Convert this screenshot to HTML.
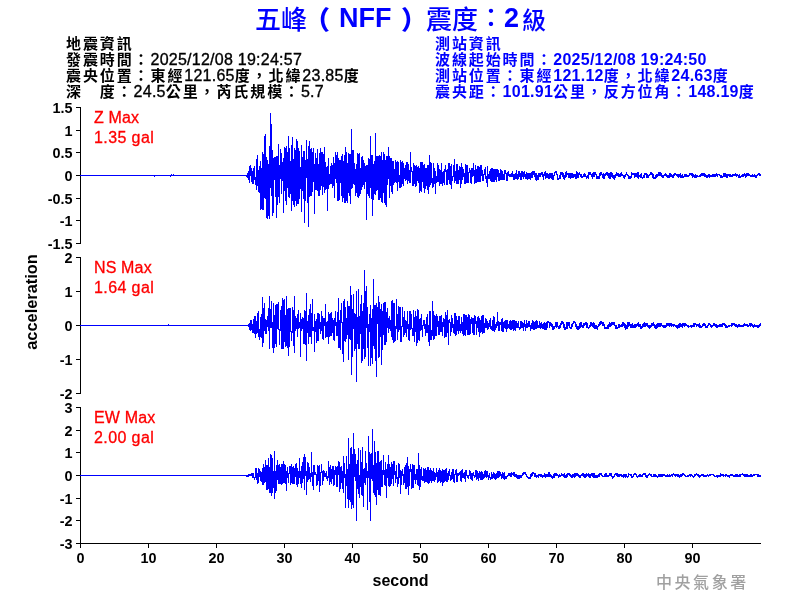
<!DOCTYPE html>
<html><head><meta charset="utf-8">
<style>
html,body{margin:0;padding:0;background:#fff;}
#c{position:relative;width:800px;height:600px;overflow:hidden;background:#fff;font-family:"Liberation Sans","Noto Sans CJK TC",sans-serif;}
.t{position:absolute;white-space:nowrap;line-height:1;}
.ti{top:7px;color:#0000ff;font-weight:bold;font-size:26px;}
.info{font-size:15px;line-height:16px;letter-spacing:1.9px;}
.l{letter-spacing:0.25px;font-size:16px;line-height:16px;}
#left{left:66px;top:36px;color:#000;font-weight:700;}
#left .l{-webkit-text-stroke:0.35px #000;font-weight:400;}
#right{left:435px;top:36px;color:#0000ff;font-weight:bold;}
.red{color:#ff0000;font-size:16px;line-height:20px;-webkit-text-stroke:0.3px #ff0000;}
.red span{letter-spacing:0.4px;}
.red{letter-spacing:0.15px;}
svg{position:absolute;left:0;top:0;}
svg text{font-family:"Liberation Sans",sans-serif;font-weight:bold;font-size:14.4px;}
#cwb{left:656px;top:574.5px;color:#a0a0a0;font-size:16px;letter-spacing:2.55px;font-weight:500;}
</style></head><body><div id="c">
<div class="t ti" style="left:255px;font-weight:500">五峰</div><div class="t ti" style="left:304px;font-weight:900">（</div><div class="t ti" style="left:339px;font-size:27px;top:5px">NFF</div><div class="t ti" style="left:401px;font-weight:900">）</div><div class="t ti" style="left:426px;font-weight:500">震度</div><div class="t ti" style="left:478px;top:5px;font-weight:500">：</div><div class="t ti" style="left:504px;font-size:27px;top:5px">2</div><div class="t ti" style="left:522px;top:9px;font-size:24px;font-weight:500">級</div>
<div class="t info" id="left">地震資訊<br>發震時間：<span class="l">2025/12/08 19:24:57</span><br>震央位置：東經<span class="l">121.65</span>度，北緯<span class="l">23.85</span>度<br>深　度：<span class="l">24.5</span>公里，芮氏規模：<span class="l">5.7</span></div>
<div class="t info" id="right">測站資訊<br>波線起始時間：<span class="l">2025/12/08 19:24:50</span><br>測站位置：東經<span class="l">121.12</span>度，北緯<span class="l">24.63</span>度<br>震央距：<span class="l">101.91</span>公里，反方位角：<span class="l">148.19</span>度</div>
<div class="t red" style="left:94px;top:108px">Z Max<br><span>1.35 gal</span></div>
<div class="t red" style="left:94px;top:258px">NS Max<br><span>1.64 gal</span></div>
<div class="t red" style="left:94px;top:408px">EW Max<br><span>2.00 gal</span></div>
<svg width="800" height="600" viewBox="0 0 800 600">
<g stroke="#000" stroke-width="1" fill="none" shape-rendering="crispEdges">
<path d="M80.5 107V243.5M76 107.5H80.5M76 130.5H80M76 152.5H80M76 175.5H80M76 198.5H80M76 220.5H80M76 243.5H80"/>
<path d="M80.5 257V393.5M76 257.5H80.5M76 291.5H80M76 325.5H80M76 359.5H80M76 393.5H80"/>
<path d="M80.5 407V543.5M76 407.5H80.5M76 430.5H80M76 452.5H80M76 475.5H80M76 498.5H80M76 520.5H80M76 543.5H761"/>
<path d="M80.5 543V548M148.5 543V548M216.5 543V548M284.5 543V548M352.5 543V548M420.5 543V548M488.5 543V548M556.5 543V548M624.5 543V548M692.5 543V548"/>
</g>
<g fill="#000" text-anchor="end">
<text x="72.6" y="113">1.5</text><text x="72.6" y="136">1</text><text x="72.6" y="158">0.5</text><text x="72.6" y="181">0</text><text x="72.6" y="204">-0.5</text><text x="72.6" y="226">-1</text><text x="72.6" y="249">-1.5</text>
<text x="72.6" y="263">2</text><text x="72.6" y="297">1</text><text x="72.6" y="331">0</text><text x="72.6" y="365">-1</text><text x="72.6" y="399">-2</text>
<text x="72.6" y="413">3</text><text x="72.6" y="436">2</text><text x="72.6" y="458">1</text><text x="72.6" y="481">0</text><text x="72.6" y="504">-1</text><text x="72.6" y="526">-2</text><text x="72.6" y="549">-3</text>
</g>
<g fill="#000" text-anchor="middle">
<text x="80.5" y="563">0</text><text x="148.5" y="563">10</text><text x="216.5" y="563">20</text><text x="284.5" y="563">30</text><text x="352.5" y="563">40</text><text x="420.5" y="563">50</text><text x="488.5" y="563">60</text><text x="556.5" y="563">70</text><text x="624.5" y="563">80</text><text x="692.5" y="563">90</text>
<text x="400.5" y="586" style="font-size:16px">second</text>
<text transform="translate(36.5,302) rotate(-90)" style="font-size:16.4px">acceleration</text>
</g>
<g id="wave" stroke="#0000ff" stroke-width="1" fill="none" shape-rendering="crispEdges">
<path d="M80 175.5h74M154.5 175V177M155 175.5h15M170.5 175V177M171.5 174V176M172 175.5h1M173.5 174V176M174 175.5h72M246.5 175V177M247.5 173V178M248.5 171V180M249.5 166V183M250.5 165V176M251.5 168V182M252.5 171V184M253.5 168V184M254.5 166V180M255.5 177V185M256.5 159V190M257.5 155V186M258.5 170V192M259.5 166V193M260.5 161V210M261.5 168V209M262.5 152V210M263.5 154V210M264.5 136V198M265.5 134V199M266.5 157V218M267.5 160V219M268.5 164V216M269.5 146V219M270.5 113V188M271.5 124V196M272.5 150V216M273.5 158V213M274.5 157V180M275.5 157V197M276.5 156V218M277.5 156V205M278.5 144V197M279.5 165V203M280.5 149V179M281.5 153V194M282.5 162V181M283.5 158V213M284.5 147V191M285.5 148V201M286.5 146V205M287.5 152V188M288.5 136V197M289.5 148V198M290.5 161V194M291.5 145V211M292.5 137V201M293.5 159V205M294.5 148V207M295.5 150V201M296.5 139V206M297.5 141V204M298.5 148V204M299.5 151V199M300.5 167V189M301.5 145V212M302.5 157V191M303.5 151V199M304.5 151V223M305.5 160V201M306.5 140V178M307.5 159V203M308.5 146V227M309.5 141V197M310.5 149V196M311.5 148V196M312.5 152V192M313.5 148V182M314.5 164V214M315.5 153V190M316.5 158V190M317.5 149V191M318.5 164V196M319.5 153V196M320.5 148V190M321.5 152V186M322.5 152V195M323.5 154V187M324.5 147V193M325.5 162V190M326.5 167V189M327.5 166V211M328.5 158V189M329.5 174V185M330.5 166V184M331.5 163V184M332.5 165V188M333.5 157V186M334.5 163V198M335.5 152V179M336.5 155V183M337.5 152V201M338.5 158V201M339.5 160V200M340.5 160V183M341.5 156V196M342.5 154V202M343.5 161V198M344.5 155V203M345.5 147V203M346.5 152V201M347.5 163V203M348.5 153V193M349.5 154V196M350.5 154V204M351.5 129V189M352.5 150V188M353.5 150V184M354.5 163V185M355.5 169V196M356.5 164V193M357.5 153V197M358.5 154V198M359.5 153V196M360.5 168V194M361.5 157V190M362.5 156V187M363.5 160V185M364.5 163V189M365.5 166V182M366.5 165V220M367.5 165V194M368.5 158V196M369.5 159V198M370.5 136V188M371.5 155V199M372.5 155V216M373.5 164V200M374.5 161V194M375.5 133V195M376.5 156V191M377.5 156V190M378.5 156V200M379.5 155V200M380.5 156V198M381.5 152V202M382.5 160V203M383.5 152V193M384.5 154V203M385.5 160V205M386.5 156V207M387.5 156V185M388.5 147V179M389.5 156V198M390.5 158V186M391.5 158V192M392.5 161V194M393.5 161V185M394.5 169V183M395.5 160V182M396.5 162V183M397.5 161V191M398.5 162V182M399.5 175V188M400.5 160V188M401.5 162V187M402.5 161V184M403.5 163V186M404.5 168V179M405.5 165V181M406.5 162V180M407.5 162V184M408.5 164V181M409.5 170V183M410.5 152V183M411.5 167V172M412.5 171V186M413.5 163V186M414.5 165V184M415.5 166V187M416.5 165V186M417.5 167V181M418.5 166V183M419.5 168V193M420.5 162V191M421.5 162V192M422.5 162V182M423.5 165V188M424.5 164V193M425.5 168V189M426.5 168V186M427.5 165V190M428.5 165V194M429.5 155V187M430.5 162V185M431.5 163V183M432.5 178V188M433.5 163V187M434.5 168V184M435.5 171V194M436.5 176V183M437.5 163V182M438.5 165V182M439.5 169V186M440.5 170V184M441.5 163V184M442.5 172V186M443.5 171V183M444.5 169V185M445.5 165V172M446.5 170V185M447.5 169V185M448.5 163V180M449.5 163V184M450.5 166V185M451.5 164V189M452.5 176V181M453.5 165V177M454.5 159V183M455.5 171V181M456.5 164V184M457.5 164V184M458.5 170V184M459.5 166V180M460.5 167V188M461.5 163V184M462.5 167V180M463.5 169V177M464.5 173V184M465.5 164V184M466.5 165V183M467.5 165V183M468.5 172V183M469.5 168V173M470.5 170V183M471.5 168V184M472.5 168V177M473.5 163V176M474.5 170V184M475.5 165V183M476.5 169V183M477.5 166V182M478.5 166V182M479.5 167V182M480.5 165V182M481.5 165V176M482.5 170V181M483.5 174V181M484.5 169V175M485.5 167V179M486.5 176V183M487.5 166V187M488.5 174V179M489.5 171V179M490.5 169V181M491.5 168V182M492.5 168V182M493.5 169V182M494.5 169V182M495.5 169V180M496.5 169V182M497.5 169V177M498.5 170V181M499.5 173V181M500.5 169V180M501.5 170V180M502.5 171V180M503.5 174V180M504.5 170V180M505.5 170V174M506.5 173V181M507.5 172V181M508.5 171V176M509.5 174V177M510.5 174V177M511.5 173V177M512.5 171V177M513.5 174V180M514.5 174V180M515.5 173V179M516.5 170V179M517.5 174V180M518.5 171V179M519.5 171V177M520.5 173V180M521.5 171V180M522.5 171V177M523.5 172V179M524.5 171V177M525.5 174V179M526.5 172V179M527.5 173V180M528.5 173V179M529.5 173V179M530.5 173V180M531.5 172V178M532.5 171V178M533.5 171V175M534.5 171V177M535.5 173V180M536.5 173V181M537.5 175V180M538.5 173V180M539.5 173V177M540.5 173V177M541.5 172V175M542.5 172V177M543.5 174V180M544.5 172V176M545.5 171V179M546.5 173V178M547.5 173V178M548.5 174V179M549.5 173V179M550.5 173V178M551.5 173V179M552.5 173V180M553.5 175V180M554.5 172V176M555.5 171V173M556.5 171V175M557.5 174V180M558.5 178V180M559.5 175V179M560.5 172V179M561.5 172V175M562.5 172V177M563.5 173V179M564.5 175V180M565.5 172V178M566.5 171V177M567.5 173V175M568.5 173V178M569.5 173V178M570.5 173V179M571.5 173V178M572.5 173V178M573.5 174V178M574.5 174V177M575.5 174V179M576.5 171V179M577.5 172V178M578.5 173V178M579.5 172V175M580.5 174V177M581.5 174V178M582.5 176V178M583.5 174V177M584.5 173V177M585.5 174V177M586.5 176V179M587.5 175V178M588.5 172V179M589.5 172V175M590.5 172V175M591.5 174V177M592.5 173V179M593.5 172V177M594.5 172V177M595.5 172V175M596.5 174V179M597.5 176V179M598.5 176V179M599.5 173V179M600.5 172V176M601.5 172V175M602.5 174V178M603.5 173V179M604.5 174V179M605.5 173V176M606.5 172V175M607.5 172V176M608.5 173V178M609.5 173V179M610.5 172V179M611.5 172V177M612.5 173V178M613.5 175V179M614.5 175V180M615.5 174V178M616.5 172V176M617.5 173V176M618.5 173V177M619.5 174V177M620.5 173V177M621.5 172V176M622.5 174V176M623.5 175V178M624.5 175V179M625.5 174V177M626.5 172V175M627.5 174V176M628.5 175V179M629.5 176V179M630.5 176V179M631.5 172V178M632.5 173V175M633.5 173V175M634.5 173V178M635.5 173V177M636.5 173V177M637.5 172V178M638.5 172V179M639.5 175V177M640.5 174V178M641.5 173V178M642.5 177V179M643.5 175V178M644.5 173V178M645.5 173V175M646.5 173V178M647.5 174V178M648.5 175V178M649.5 174V176M650.5 172V175M651.5 172V175M652.5 173V178M653.5 174V179M654.5 177V179M655.5 175V179M656.5 174V178M657.5 174V177M658.5 172V176M659.5 172V176M660.5 172V176M661.5 173V177M662.5 175V178M663.5 175V178M664.5 174V176M665.5 173V176M666.5 174V177M667.5 175V178M668.5 175V178M669.5 173V178M670.5 173V177M671.5 174V177M672.5 175V178M673.5 174V178M674.5 173V176M675.5 173V175M676.5 174V176M677.5 174V177M678.5 174V178M679.5 174V177M680.5 173V178M681.5 175V178M682.5 174V178M683.5 176V178M684.5 174V177M685.5 174V177M686.5 174V177M687.5 175V177M688.5 175V177M689.5 173V176M690.5 173V175M691.5 173V176M692.5 173V178M693.5 174V177M694.5 175V178M695.5 174V178M696.5 175V178M697.5 175V177M698 176.5h1M699.5 175V177M700.5 174V177M701.5 173V176M702.5 173V176M703.5 173V176M704.5 173V177M705.5 174V177M706.5 175V178M707.5 175V178M708.5 174V177M709.5 174V178M710.5 175V177M711.5 175V177M712.5 174V177M713.5 174V177M714.5 174V177M715.5 174V177M716.5 173V176M717.5 174V177M718 174.5h1M719.5 174V176M720.5 175V178M721.5 175V178M722.5 176V178M723.5 173V177M724.5 173V177M725.5 173V177M726.5 174V178M727.5 174V178M728.5 174V176M729.5 174V177M730.5 174V177M731.5 175V177M732.5 174V177M733.5 174V176M734.5 174V176M735.5 173V176M736.5 174V177M737.5 174V176M738.5 175V178M739.5 174V178M740.5 176V178M741.5 175V177M742.5 174V177M743.5 174V177M744.5 173V176M745.5 174V178M746.5 173V177M747.5 173V176M748.5 173V176M749.5 174V176M750.5 175V177M751.5 175V177M752.5 174V177M753.5 175V177M754.5 174V177M755.5 175V178M756.5 175V178M757.5 174V176M758.5 173V175M759.5 173V176M760.5 174V176"/>
<path d="M80 325.5h88M168.5 324V326M169 325.5h79M248.5 324V327M249.5 323V330M250.5 320V331M251.5 320V330M252.5 324V333M253.5 319V333M254.5 316V334M255.5 316V338M256.5 321V334M257.5 313V333M258.5 311V337M259.5 329V340M260.5 317V337M261.5 314V338M262.5 297V347M263.5 308V343M264.5 303V331M265.5 319V334M266.5 320V334M267.5 316V327M268.5 308V331M269.5 296V349M270.5 309V328M271.5 301V328M272.5 322V348M273.5 303V353M274.5 315V348M275.5 305V344M276.5 304V347M277.5 304V329M278.5 302V330M279.5 329V345M280.5 310V331M281.5 306V349M282.5 298V349M283.5 300V349M284.5 299V342M285.5 315V347M286.5 296V346M287.5 309V348M288.5 308V356M289.5 308V347M290.5 308V332M291.5 331V341M292.5 307V333M293.5 310V346M294.5 296V353M295.5 316V331M296.5 318V329M297.5 314V337M298.5 310V329M299.5 322V328M300.5 313V357M301.5 319V331M302.5 317V329M303.5 318V344M304.5 310V344M305.5 311V345M306.5 293V361M307.5 321V333M308.5 315V344M309.5 309V337M310.5 304V337M311.5 313V344M312.5 299V331M313.5 327V331M314.5 314V352M315.5 321V332M316.5 319V343M317.5 313V341M318.5 313V341M319.5 314V329M320.5 322V334M321.5 311V331M322.5 316V339M323.5 318V340M324.5 318V326M325.5 304V338M326.5 322V337M327.5 321V337M328.5 312V344M329.5 314V337M330.5 313V336M331.5 312V336M332.5 318V333M333.5 320V340M334.5 318V341M335.5 311V326M336.5 322V336M337.5 312V336M338.5 298V348M339.5 320V348M340.5 310V350M341.5 303V323M342.5 322V354M343.5 301V362M344.5 299V341M345.5 307V342M346.5 318V339M347.5 301V335M348.5 306V360M349.5 306V339M350.5 286V340M351.5 295V375M352.5 309V357M353.5 294V329M354.5 313V351M355.5 314V349M356.5 291V382M357.5 317V344M358.5 289V349M359.5 316V349M360.5 304V334M361.5 295V363M362.5 311V361M363.5 303V349M364.5 270V359M365.5 291V357M366.5 286V328M367.5 307V348M368.5 324V366M369.5 314V332M370.5 305V366M371.5 318V358M372.5 309V364M373.5 279V346M374.5 305V349M375.5 305V361M376.5 303V377M377.5 307V324M378.5 296V358M379.5 302V357M380.5 309V337M381.5 304V365M382.5 311V350M383.5 303V335M384.5 302V345M385.5 302V345M386.5 312V342M387.5 308V328M388.5 318V333M389.5 316V329M390.5 320V331M391.5 301V337M392.5 300V340M393.5 303V343M394.5 303V342M395.5 326V341M396.5 299V329M397.5 314V340M398.5 306V332M399.5 307V330M400.5 307V342M401.5 326V342M402.5 307V327M403.5 317V337M404.5 311V335M405.5 320V333M406.5 321V337M407.5 311V329M408.5 324V340M409.5 311V341M410.5 311V330M411.5 314V329M412.5 328V336M413.5 310V336M414.5 317V342M415.5 311V332M416.5 316V346M417.5 309V343M418.5 310V340M419.5 319V341M420.5 318V331M421.5 314V330M422.5 325V337M423.5 320V326M424.5 320V329M425.5 324V336M426.5 317V333M427.5 314V333M428.5 325V342M429.5 311V346M430.5 311V340M431.5 330V340M432.5 301V336M433.5 311V340M434.5 315V339M435.5 316V336M436.5 314V336M437.5 316V327M438.5 321V335M439.5 316V335M440.5 316V332M441.5 315V332M442.5 322V336M443.5 318V327M444.5 319V338M445.5 312V337M446.5 315V337M447.5 310V333M448.5 320V345M449.5 319V323M450.5 322V336M451.5 315V332M452.5 318V328M453.5 324V333M454.5 313V334M455.5 313V336M456.5 316V335M457.5 320V331M458.5 316V334M459.5 316V331M460.5 324V333M461.5 317V331M462.5 322V334M463.5 314V336M464.5 314V335M465.5 315V336M466.5 315V330M467.5 317V335M468.5 314V335M469.5 315V335M470.5 319V334M471.5 317V324M472.5 318V333M473.5 318V335M474.5 315V335M475.5 316V324M476.5 321V335M477.5 317V328M478.5 316V332M479.5 318V337M480.5 320V333M481.5 316V332M482.5 315V334M483.5 315V333M484.5 323V333M485.5 318V328M486.5 319V328M487.5 321V330M488.5 323V329M489.5 320V327M490.5 318V329M491.5 326V330M492.5 320V331M493.5 316V331M494.5 317V332M495.5 324V330M496.5 322V328M497.5 312V326M498.5 321V331M499.5 322V331M500.5 322V325M501.5 319V331M502.5 318V332M503.5 322V332M504.5 321V328M505.5 320V329M506.5 320V332M507.5 320V329M508.5 324V328M509.5 321V329M510.5 320V330M511.5 321V330M512.5 320V329M513.5 320V331M514.5 320V330M515.5 321V331M516.5 321V328M517.5 323V328M518.5 321V328M519.5 327V330M520.5 321V329M521.5 321V328M522.5 322V328M523.5 323V331M524.5 320V327M525.5 324V331M526.5 320V328M527.5 323V328M528.5 321V327M529.5 321V327M530.5 325V331M531.5 323V329M532.5 320V329M533.5 321V330M534.5 322V330M535.5 321V329M536.5 320V329M537.5 321V328M538.5 325V328M539.5 321V328M540.5 323V329M541.5 322V328M542.5 324V329M543.5 323V329M544.5 322V330M545.5 323V330M546.5 322V330M547.5 321V328M548.5 321V323M549.5 322V328M550.5 322V326M551.5 323V327M552.5 324V330M553.5 326V330M554.5 326V329M555.5 322V327M556.5 322V328M557.5 322V327M558.5 326V329M559.5 325V329M560.5 323V328M561.5 321V325M562.5 321V324M563.5 322V328M564.5 324V330M565.5 327V330M566.5 322V329M567.5 322V329M568.5 322V326M569.5 322V328M570.5 327V329M571.5 324V329M572.5 323V327M573.5 321V324M574.5 321V323M575.5 322V327M576.5 324V329M577.5 326V330M578.5 326V330M579.5 323V329M580.5 322V328M581.5 322V327M582.5 325V328M583.5 323V328M584.5 323V326M585.5 322V325M586.5 322V328M587.5 323V328M588.5 327V329M589.5 325V328M590.5 322V327M591.5 322V326M592.5 323V327M593.5 322V328M594.5 323V329M595.5 325V329M596.5 325V329M597.5 326V330M598.5 324V327M599.5 322V326M600.5 321V325M601.5 321V324M602.5 322V326M603.5 322V326M604.5 324V329M605.5 327V329M606.5 327V329M607.5 325V329M608.5 324V329M609.5 322V327M610.5 323V327M611.5 322V326M612.5 322V325M613.5 322V325M614.5 322V326M615.5 325V329M616.5 325V329M617.5 327V329M618.5 324V328M619.5 324V328M620.5 325V327M621.5 324V327M622.5 322V327M623.5 322V326M624.5 323V328M625.5 324V330M626.5 325V329M627.5 322V329M628.5 322V327M629.5 322V326M630.5 324V328M631.5 324V328M632.5 323V328M633.5 325V328M634.5 324V328M635.5 324V328M636.5 324V327M637.5 323V326M638.5 322V327M639.5 324V327M640.5 324V329M641.5 326V329M642.5 324V328M643.5 323V327M644.5 322V327M645.5 323V327M646.5 323V326M647.5 323V327M648.5 325V328M649.5 325V329M650.5 325V328M651.5 323V327M652.5 323V326M653.5 322V326M654.5 324V328M655.5 325V329M656.5 324V329M657.5 323V328M658.5 323V327M659.5 323V327M660.5 323V327M661.5 323V326M662.5 325V327M663.5 325V328M664.5 325V328M665.5 325V328M666.5 323V327M667.5 323V326M668.5 323V326M669.5 323V327M670.5 323V326M671.5 323V327M672.5 324V326M673.5 324V327M674.5 324V326M675.5 325V327M676.5 325V328M677.5 325V329M678.5 324V328M679.5 323V328M680.5 323V327M681.5 324V327M682.5 323V328M683.5 323V326M684.5 323V327M685.5 323V326M686.5 324V326M687.5 325V327M688.5 325V328M689 326.5h1M690.5 325V327M691.5 325V328M692.5 325V327M693.5 323V327M694.5 323V327M695.5 323V325M696.5 324V327M697.5 324V326M698.5 324V327M699.5 323V328M700.5 325V328M701.5 326V328M702.5 324V327M703.5 323V326M704.5 323V326M705.5 324V328M706.5 326V328M707.5 325V328M708.5 323V326M709.5 323V325M710.5 324V327M711.5 325V328M712.5 325V327M713.5 323V326M714.5 323V326M715.5 324V327M716.5 324V328M717.5 325V328M718.5 325V327M719.5 324V327M720.5 324V327M721.5 324V327M722.5 323V327M723.5 323V325M724.5 323V326M725.5 324V328M726.5 325V328M727.5 326V328M728.5 325V327M729.5 325V327M730 325.5h1M731.5 323V327M732.5 323V326M733.5 323V325M734.5 323V326M735.5 324V327M736.5 324V327M737.5 325V328M738.5 324V327M739.5 324V327M740.5 325V327M741.5 325V327M742.5 325V327M743.5 324V327M744.5 323V326M745.5 324V326M746.5 324V326M747.5 324V327M748.5 325V327M749.5 323V326M750.5 323V327M751.5 323V326M752.5 324V327M753.5 325V328M754.5 324V327M755.5 325V327M756.5 325V327M757.5 325V328M758.5 325V328M759.5 324V327M760.5 323V326"/>
<path d="M80 475.5h166M246.5 475V477M247.5 475V477M248.5 474V477M249.5 474V476M250.5 474V476M251.5 473V476M252.5 473V478M253.5 473V478M254.5 477V480M255.5 468V478M256.5 468V480M257.5 473V484M258.5 468V483M259.5 469V477M260.5 471V481M261.5 472V482M262.5 468V485M263.5 464V485M264.5 467V483M265.5 460V482M266.5 465V490M267.5 465V490M268.5 458V489M269.5 467V493M270.5 454V493M271.5 455V496M272.5 458V493M273.5 471V488M274.5 451V499M275.5 471V493M276.5 465V491M277.5 460V480M278.5 465V484M279.5 464V484M280.5 467V484M281.5 464V485M282.5 464V484M283.5 461V483M284.5 464V483M285.5 465V484M286.5 471V491M287.5 467V478M288.5 473V483M289.5 466V474M290.5 466V485M291.5 464V483M292.5 467V484M293.5 466V484M294.5 468V484M295.5 464V477M296.5 463V485M297.5 468V487M298.5 471V484M299.5 458V478M300.5 471V484M301.5 466V488M302.5 462V483M303.5 457V479M304.5 454V490M305.5 457V476M306.5 471V495M307.5 462V482M308.5 463V480M309.5 467V479M310.5 473V482M311.5 452V477M312.5 472V486M313.5 465V490M314.5 465V475M315.5 472V475M316.5 474V486M317.5 465V485M318.5 466V481M319.5 465V492M320.5 472V486M321.5 464V473M322.5 471V485M323.5 470V481M324.5 471V477M325.5 473V477M326.5 471V479M327.5 476V481M328.5 461V478M329.5 467V485M330.5 465V482M331.5 469V484M332.5 466V479M333.5 466V486M334.5 470V485M335.5 466V475M336.5 467V487M337.5 466V487M338.5 461V475M339.5 462V492M340.5 467V489M341.5 466V483M342.5 471V489M343.5 456V493M344.5 463V478M345.5 474V508M346.5 456V486M347.5 469V499M348.5 438V508M349.5 464V500M350.5 448V502M351.5 447V509M352.5 454V505M353.5 433V508M354.5 449V477M355.5 454V481M356.5 464V521M357.5 460V489M358.5 448V494M359.5 475V498M360.5 450V487M361.5 462V495M362.5 447V496M363.5 469V507M364.5 468V483M365.5 451V485M366.5 463V478M367.5 471V510M368.5 436V478M369.5 452V502M370.5 454V521M371.5 453V479M372.5 429V481M373.5 465V493M374.5 441V495M375.5 452V497M376.5 463V505M377.5 451V490M378.5 451V495M379.5 462V495M380.5 461V496M381.5 460V487M382.5 470V487M383.5 455V475M384.5 470V485M385.5 462V486M386.5 469V498M387.5 464V478M388.5 455V486M389.5 464V487M390.5 467V486M391.5 462V484M392.5 464V479M393.5 461V486M394.5 461V475M395.5 471V483M396.5 465V479M397.5 477V487M398.5 463V484M399.5 464V478M400.5 470V494M401.5 471V485M402.5 469V476M403.5 474V485M404.5 467V483M405.5 465V489M406.5 463V489M407.5 457V487M408.5 466V495M409.5 469V486M410.5 464V472M411.5 469V489M412.5 464V488M413.5 465V488M414.5 465V480M415.5 474V484M416.5 469V480M417.5 469V485M418.5 453V486M419.5 465V490M420.5 469V487M421.5 467V480M422.5 476V481M423.5 468V481M424.5 469V483M425.5 468V482M426.5 470V482M427.5 467V483M428.5 467V484M429.5 470V483M430.5 468V481M431.5 470V483M432.5 471V481M433.5 468V481M434.5 472V482M435.5 473V480M436.5 468V477M437.5 472V483M438.5 470V482M439.5 468V481M440.5 470V483M441.5 471V482M442.5 469V486M443.5 470V483M444.5 470V482M445.5 469V481M446.5 468V482M447.5 473V482M448.5 471V480M449.5 469V476M450.5 475V481M451.5 472V480M452.5 469V479M453.5 469V482M454.5 474V483M455.5 470V475M456.5 469V482M457.5 473V482M458.5 473V476M459.5 472V475M460.5 471V481M461.5 470V482M462.5 469V478M463.5 473V478M464.5 472V479M465.5 470V482M466.5 470V476M467.5 475V478M468.5 475V479M469.5 470V476M470.5 471V479M471.5 473V480M472.5 473V481M473.5 472V476M474.5 475V478M475.5 470V477M476.5 470V480M477.5 471V479M478.5 473V481M479.5 471V478M480.5 472V480M481.5 471V480M482.5 472V480M483.5 474V479M484.5 471V478M485.5 470V477M486.5 471V478M487.5 471V477M488.5 475V480M489.5 473V478M490.5 477V480M491.5 472V479M492.5 474V479M493.5 472V478M494.5 473V479M495.5 474V480M496.5 473V479M497.5 471V478M498.5 471V478M499.5 471V477M500.5 472V476M501.5 474V479M502.5 472V478M503.5 473V479M504.5 472V480M505.5 476V479M506.5 476V479M507.5 475V477M508.5 473V476M509.5 473V476M510.5 473V477M511.5 472V477M512.5 473V475M513.5 472V476M514.5 472V477M515.5 474V477M516.5 474V478M517.5 475V479M518.5 475V479M519.5 475V479M520.5 475V478M521.5 475V478M522.5 473V476M523.5 472V475M524.5 472V474M525.5 472V475M526.5 474V477M527.5 476V478M528.5 477V479M529.5 477V479M530.5 474V479M531.5 473V477M532.5 472V476M533.5 472V474M534.5 473V477M535.5 473V477M536.5 475V478M537.5 475V477M538.5 474V478M539.5 474V476M540.5 474V477M541.5 474V477M542.5 475V478M543.5 475V477M544.5 473V477M545.5 474V478M546.5 474V477M547.5 474V477M548.5 472V477M549.5 472V477M550.5 474V477M551.5 475V478M552.5 476V479M553.5 474V478M554.5 473V478M555.5 473V476M556.5 473V476M557.5 474V476M558.5 475V478M559.5 474V477M560.5 475V477M561.5 473V476M562.5 474V476M563.5 474V477M564.5 473V478M565.5 475V478M566.5 474V478M567.5 473V477M568.5 473V475M569.5 473V476M570.5 474V477M571.5 475V478M572.5 474V478M573.5 474V477M574.5 473V478M575.5 473V477M576.5 473V476M577.5 473V476M578.5 474V477M579.5 475V478M580.5 475V478M581.5 474V476M582.5 473V476M583.5 473V477M584.5 474V478M585.5 474V478M586.5 473V477M587.5 474V476M588.5 473V477M589.5 474V478M590.5 474V478M591.5 473V476M592.5 473V477M593.5 473V478M594.5 473V478M595.5 475V478M596.5 475V478M597.5 475V478M598.5 474V477M599.5 473V477M600.5 473V475M601.5 473V476M602.5 475V477M603 476.5h1M604.5 474V477M605.5 473V477M606.5 473V477M607.5 475V477M608.5 475V477M609.5 473V476M610.5 473V476M611.5 473V477M612.5 476V479M613.5 476V478M614.5 474V477M615.5 473V475M616.5 473V476M617.5 473V477M618.5 474V477M619.5 474V477M620.5 474V476M621.5 474V477M622.5 475V477M623.5 474V478M624.5 474V477M625.5 474V478M626.5 474V477M627.5 476V478M628.5 473V477M629 474.5h1M630.5 474V476M631.5 474V478M632.5 476V478M633.5 474V477M634.5 473V475M635.5 473V475M636.5 474V477M637.5 476V478M638.5 475V477M639.5 474V477M640.5 474V477M641.5 475V477M642.5 474V477M643.5 473V475M644.5 473V475M645.5 473V477M646.5 475V478M647.5 475V478M648.5 474V476M649.5 473V475M650.5 474V476M651.5 474V477M652 476.5h1M653.5 474V477M654.5 474V477M655.5 474V477M656.5 475V477M657.5 476V478M658.5 474V477M659.5 474V477M660.5 474V477M661.5 474V477M662.5 474V477M663.5 474V476M664.5 474V476M665.5 475V477M666.5 475V477M667.5 474V477M668.5 475V477M669.5 474V477M670.5 475V477M671.5 474V476M672.5 474V477M673.5 473V475M674.5 474V476M675.5 474V477M676.5 474V476M677.5 474V477M678.5 474V477M679.5 475V478M680.5 474V477M681.5 474V477M682.5 473V476M683.5 473V475M684.5 474V476M685.5 475V477M686 476.5h1M687.5 475V477M688.5 475V477M689.5 474V476M690.5 474V477M691.5 474V476M692.5 475V477M693.5 476V478M694.5 474V477M695.5 474V476M696.5 473V475M697.5 474V476M698.5 474V477M699.5 475V478M700.5 475V477M701.5 474V476M702.5 474V476M703.5 474V477M704.5 475V477M705.5 475V477M706.5 475V477M707.5 474V476M708.5 475V477M709.5 474V476M710.5 474V476M711 474.5h2M713.5 474V476M714.5 475V477M715 476.5h1M716.5 475V477M717.5 475V478M718.5 475V477M719.5 475V477M720.5 473V477M721.5 474V476M722.5 474V476M723.5 474V477M724 475.5h1M725.5 474V477M726.5 474V476M727.5 475V477M728.5 475V477M729.5 475V478M730.5 474V476M731.5 474V476M732.5 474V476M733.5 475V477M734.5 475V477M735.5 474V477M736.5 474V477M737.5 474V477M738.5 475V477M739.5 474V477M740.5 474V477M741 474.5h1M742.5 473V475M743.5 474V476M744.5 474V477M745.5 474V477M746.5 474V477M747.5 474V477M748.5 475V477M749.5 475V477M750.5 474V477M751.5 474V477M752.5 475V477M753.5 474V476M754.5 474V476M755 474.5h2M757.5 474V477M758.5 474V477M759.5 475V477M760.5 475V477"/>
</g>
</svg>
<div class="t" id="cwb">中央氣象署</div>
</div></body></html>
